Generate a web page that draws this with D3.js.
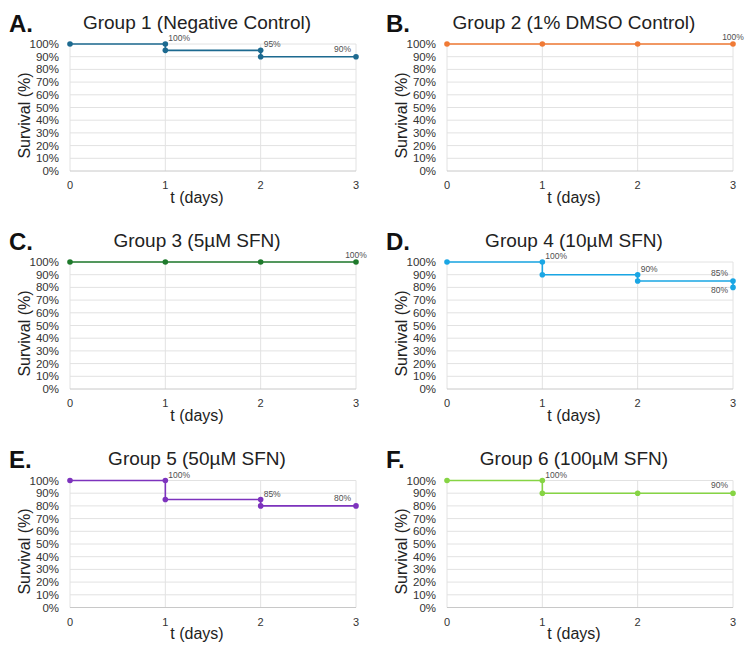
<!DOCTYPE html>
<html>
<head>
<meta charset="utf-8">
<script src="https://cdn.jsdelivr.net/npm/d3@7"></script>
<style>
  body { margin: 0; background: #fff; }
  svg { display: block; font-family: "Liberation Sans", Arial, sans-serif; }
</style>
</head>
<body>
<div id="content"></div>
<script>
// data
const days = [0, 1, 2, 3]
const yTicks = [0, 10, 20, 30, 40, 50, 60, 70, 80, 90, 100]
const panelLetters = ['A.', 'B.', 'C.', 'D.', 'E.', 'F.']
const panelTitles = ['Group 1 (Negative Control)', 'Group 2 (1% DMSO Control)', 'Group 3 (5µM SFN)',
    'Group 4 (10µM SFN)', 'Group 5 (50µM SFN)', 'Group 6 (100µM SFN)']
const seriesColors = ['#1d6a90', '#f07a35', '#1f7a2c', '#1aa6e4', '#7d33bd', '#86d444']

// survival steps [day, %]
const group1 = [[0, 100], [1, 100], [1, 95], [2, 95], [2, 90], [3, 90]]
const group2 = [[0, 100], [1, 100], [2, 100], [3, 100]]
const group3 = [[0, 100], [1, 100], [2, 100], [3, 100]]
const group4 = [[0, 100], [1, 100], [1, 90], [2, 90], [2, 85], [3, 85], [3, 80]]
const group5 = [[0, 100], [1, 100], [1, 85], [2, 85], [2, 80], [3, 80]]
const group6 = [[0, 100], [1, 100], [1, 90], [2, 90], [3, 90]]

// point labels [day, %]
const labels1 = [[1, 100], [2, 95], [3, 90]]
const labels2 = [[3, 100]]
const labels3 = [[3, 100]]
const labels4 = [[1, 100], [2, 90], [3, 85], [3, 80]]
const labels5 = [[1, 100], [2, 85], [3, 80]]
const labels6 = [[1, 100], [3, 90]]

const groups = [group1, group2, group3, group4, group5, group6]
const groupLabels = [labels1, labels2, labels3, labels4, labels5, labels6]
// where each label sits relative to its point
const labelPlacement = [
    ['right', 'right', 'left'],
    ['above'],
    ['above'],
    ['right', 'right', 'left', 'below'],
    ['right', 'right', 'left'],
    ['right', 'left']
]

const width = 747
const height = 652
const colStep = 377
const rowStep = 218
const plotLeft = 70
const plotW = 286
const plotTop = 44
const plotH = 127

const svg = d3.select('#content')
    .append('svg')
    .attr('width', width)
    .attr('height', height)

const scaleX = d3.scaleLinear().domain([0, 3]).range([0, plotW])
const scaleY = d3.scaleLinear().domain([0, 100]).range([plotH, 0])

const placeLabel = (sel, pos) => {
    if (pos === 'right') {
        sel.attr('dx', 3).attr('dy', -3).attr('text-anchor', 'start')
    } else if (pos === 'left') {
        sel.attr('dx', -5).attr('dy', -5).attr('text-anchor', 'end')
    } else if (pos === 'below') {
        sel.attr('dx', -5).attr('dy', 6).attr('text-anchor', 'end')
    } else {
        sel.attr('dx', 0).attr('dy', -4).attr('text-anchor', 'middle')
    }
}

groups.forEach((points, i) => {
    const col = i % 2
    const row = Math.floor(i / 2)
    const panel = svg.append('g')
        .attr('transform', `translate(${col * colStep}, ${row * rowStep})`)

    panel.append('text')
        .text(panelLetters[i])
        .attr('x', 9)
        .attr('y', 32)
        .attr('font-size', 24)
        .attr('font-weight', 'bold')
        .attr('fill', '#111')

    panel.append('text')
        .text(panelTitles[i])
        .attr('x', 197)
        .attr('y', 29)
        .attr('text-anchor', 'middle')
        .attr('font-size', 19)
        .attr('fill', '#222')

    const plot = panel.append('g')
        .attr('transform', `translate(${plotLeft}, ${plotTop + (row === 2 ? 0.5 : 0)})`)

    // grid
    plot.append('g')
        .selectAll('line')
        .data(yTicks.filter(d => d > 0))
        .join('line')
        .attr('x1', 0)
        .attr('x2', plotW)
        .attr('y1', d => scaleY(d))
        .attr('y2', d => scaleY(d))
        .attr('stroke', '#e2e2e2')
        .attr('stroke-width', 1)

    plot.append('g')
        .selectAll('line')
        .data(days)
        .join('line')
        .attr('x1', d => scaleX(d))
        .attr('x2', d => scaleX(d))
        .attr('y1', 0)
        .attr('y2', plotH)
        .attr('stroke', '#e2e2e2')
        .attr('stroke-width', 1)

    plot.append('line')
        .attr('x1', 0)
        .attr('x2', plotW)
        .attr('y1', plotH)
        .attr('y2', plotH)
        .attr('stroke', '#c8c8c8')

    // tick labels
    plot.append('g')
        .selectAll('text')
        .data(yTicks)
        .join('text')
        .text(d => `${d}%`)
        .attr('x', -11)
        .attr('y', d => scaleY(d))
        .attr('dy', '0.35em')
        .attr('text-anchor', 'end')
        .attr('font-size', 11.5)
        .attr('fill', '#333')

    plot.append('g')
        .selectAll('text')
        .data(days)
        .join('text')
        .text(d => d)
        .attr('x', d => scaleX(d))
        .attr('y', plotH + 18)
        .attr('text-anchor', 'middle')
        .attr('font-size', 11)
        .attr('fill', '#333')

    // axis titles
    panel.append('text')
        .text('Survival (%)')
        .attr('transform', `translate(30, ${plotTop + plotH / 2 + 8}) rotate(-90)`)
        .attr('text-anchor', 'middle')
        .attr('font-size', 16)
        .attr('fill', '#222')

    panel.append('text')
        .text('t (days)')
        .attr('x', 197)
        .attr('y', plotTop + plotH + 32)
        .attr('text-anchor', 'middle')
        .attr('font-size', 16)
        .attr('fill', '#222')

    // series
    const color = seriesColors[i]
    const line = d3.line().x(d => scaleX(d[0])).y(d => scaleY(d[1]))

    plot.append('path')
        .attr('d', line(points))
        .attr('fill', 'none')
        .attr('stroke', color)
        .attr('stroke-width', 1.6)

    plot.append('g')
        .selectAll('circle')
        .data(points)
        .join('circle')
        .attr('cx', d => scaleX(d[0]))
        .attr('cy', d => scaleY(d[1]))
        .attr('r', 2.8)
        .attr('fill', color)

    plot.append('g')
        .selectAll('text')
        .data(groupLabels[i])
        .join('text')
        .text(d => `${d[1]}%`)
        .attr('x', d => scaleX(d[0]))
        .attr('y', d => scaleY(d[1]))
        .attr('font-size', 8.5)
        .attr('fill', '#505050')
        .each(function (d, j) { placeLabel(d3.select(this), labelPlacement[i][j]) })
})
</script>
</body>
</html>
